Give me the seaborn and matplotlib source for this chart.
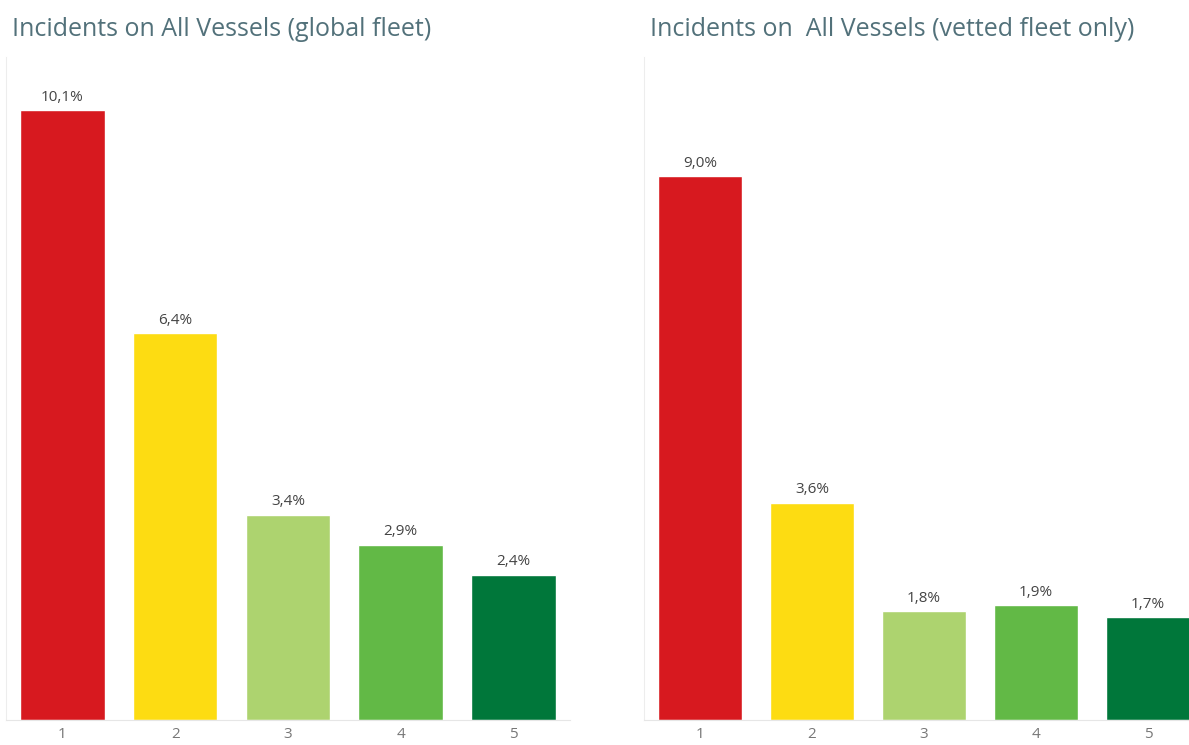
import matplotlib
matplotlib.use("Agg")
import matplotlib.pyplot as plt
import seaborn as sns
import pandas as pd

# Incident rate by vessel rating category
categories = ["1", "2", "3", "4", "5"]
global_fleet = [10.1, 6.4, 3.4, 2.9, 2.4]
vetted_fleet = [9.0, 3.6, 1.8, 1.9, 1.7]
bar_colors = ["#D7191F", "#FDDC12", "#ADD36F", "#62B946", "#00773A"]
titles = ["Incidents on All Vessels (global fleet)",
          "Incidents on  All Vessels (vetted fleet only)"]

sns.set_theme(style="white")
plt.rcParams["font.family"] = ["Open Sans", "DejaVu Sans"]

fig = plt.figure(figsize=(11.89, 7.45), dpi=100)
ax_left = fig.add_axes([0.00505, 0.0336, 0.4743, 0.89])
ax_right = fig.add_axes([0.5416, 0.0336, 0.471, 0.89])

palette = dict(zip(categories, bar_colors))

for ax, values, title, tx in [(ax_left, global_fleet, titles[0], 12 / 1189),
                              (ax_right, vetted_fleet, titles[1], 650 / 1189)]:
    df = pd.DataFrame({"category": categories, "value": values})
    sns.barplot(data=df, x="category", y="value", hue="category",
                palette=palette, order=categories, hue_order=categories,
                width=0.75, saturation=1, legend=False, ax=ax)
    ax.set_xlim(-0.5, 4.5)
    ax.set_ylim(0, 10.98)
    ax.set_xlabel("")
    ax.set_ylabel("")
    ax.set_yticks([])
    for side in ["top", "right"]:
        ax.spines[side].set_visible(False)
    ax.spines["left"].set_color("#EDEDED")
    ax.spines["left"].set_linewidth(0.8)
    ax.spines["bottom"].set_color("#E6E6E6")
    ax.spines["bottom"].set_linewidth(0.8)
    ax.tick_params(axis="x", which="major", length=0, labelsize=11,
                   labelcolor="#777777", pad=5)
    ax.set_xticks([0.5, 1.5, 2.5, 3.5], minor=True)
    ax.tick_params(axis="x", which="minor", length=4, width=0.8,
                   color="#E6E6E6", direction="out")
    for container in ax.containers:
        labels = [f"{v:.1f}%".replace(".", ",") for v in container.datavalues]
        ax.bar_label(container, labels=labels, padding=4, fontsize=11,
                     color="#444444")
    fig.text(tx, 1 - 29 / 745, title, fontsize=18, color="#52717A",
             ha="left", va="center")

fig.savefig("out.png", dpi=100)
